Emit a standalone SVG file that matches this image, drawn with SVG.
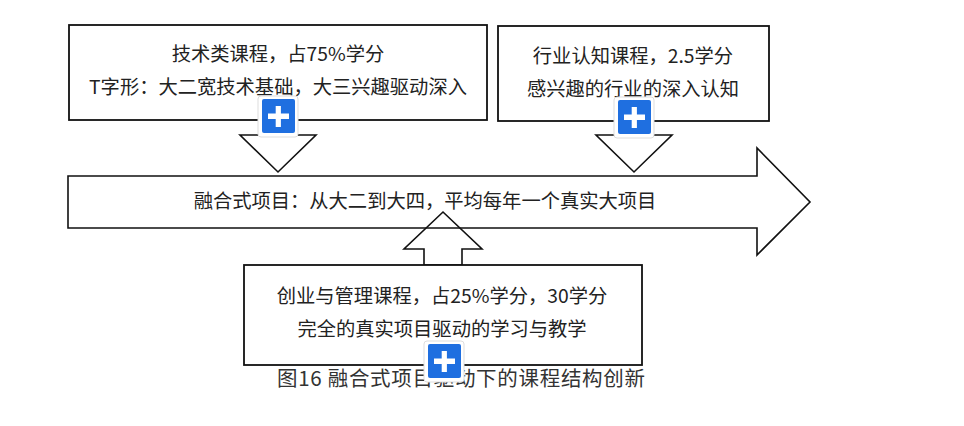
<svg xmlns="http://www.w3.org/2000/svg" xmlns:xlink="http://www.w3.org/1999/xlink" width="964" height="426" viewBox="0 0 964 426">
<style>
.box{fill:#fff;stroke:#111;stroke-width:1.8}
.arr{fill:#fff;stroke:#111;stroke-width:1.6;stroke-linejoin:miter}
.t{font-family:"Noto Sans CJK SC","Noto Sans",sans-serif;font-size:19.3px;fill:#222;text-anchor:middle}
.cap{font-family:"Noto Sans CJK SC","Noto Sans",sans-serif;font-size:20.5px;fill:#333}
</style>
<defs>
<g id="plus">
<rect x="-20" y="-20" width="40" height="41" rx="3" fill="#fff" stroke="#ddd" stroke-width="1"/>
<rect x="-16" y="-17" width="33" height="34" rx="2" fill="#1f6fe0"/>
<rect x="-10" y="-2.5" width="21" height="5.5" fill="#fff"/>
<rect x="-2.3" y="-10" width="5.2" height="21" fill="#fff"/>
</g>
</defs>
<rect width="964" height="426" fill="#fff"/>
<g id="main-arrow">
<polygon class="arr" points="68,176 757,176 757,148 810,202 757,255 757,228 68,228"/>
<text class="t" x="425" y="208">融合式项目：从大二到大四，平均每年一个真实大项目</text>
</g>
<g id="connectors">
<polygon class="arr" points="259,120 259,135 240,135 278,172 316,135 297,135 297,120"/>
<polygon class="arr" points="615,121 615,135 596,135 634,172 672,135 653,135 653,121"/>
<polygon class="arr" style="fill:none" points="424,265 424,249 404,249 443,212 482,249 462,249 462,265"/>
</g>
<g id="node-tech">
<rect class="box" x="69" y="25" width="418" height="95"/>
<text class="t" x="278" y="61">技术类课程，占75%学分</text>
<text class="t" x="278" y="94">T字形：大二宽技术基础，大三兴趣驱动深入</text>
</g>
<g id="node-industry">
<rect class="box" x="498" y="26" width="271" height="95"/>
<text class="t" x="633" y="63">行业认知课程，2.5学分</text>
<text class="t" x="633" y="96">感兴趣的行业的深入认知</text>
</g>
<g id="node-business">
<rect class="box" x="244" y="265" width="398" height="100"/>
<text class="t" x="442" y="303">创业与管理课程，占25%学分，30学分</text>
<text class="t" x="442" y="336">完全的真实项目驱动的学习与教学</text>
</g>
<g id="caption">
<text class="cap" x="277" y="386" textLength="368" lengthAdjust="spacing">图16 融合式项目驱动下的课程结构创新</text>
</g>
<g id="plus-icons">
<use xlink:href="#plus" x="278" y="116"/>
<use xlink:href="#plus" x="634" y="117"/>
<use xlink:href="#plus" x="444" y="361"/>
</g>
</svg>
